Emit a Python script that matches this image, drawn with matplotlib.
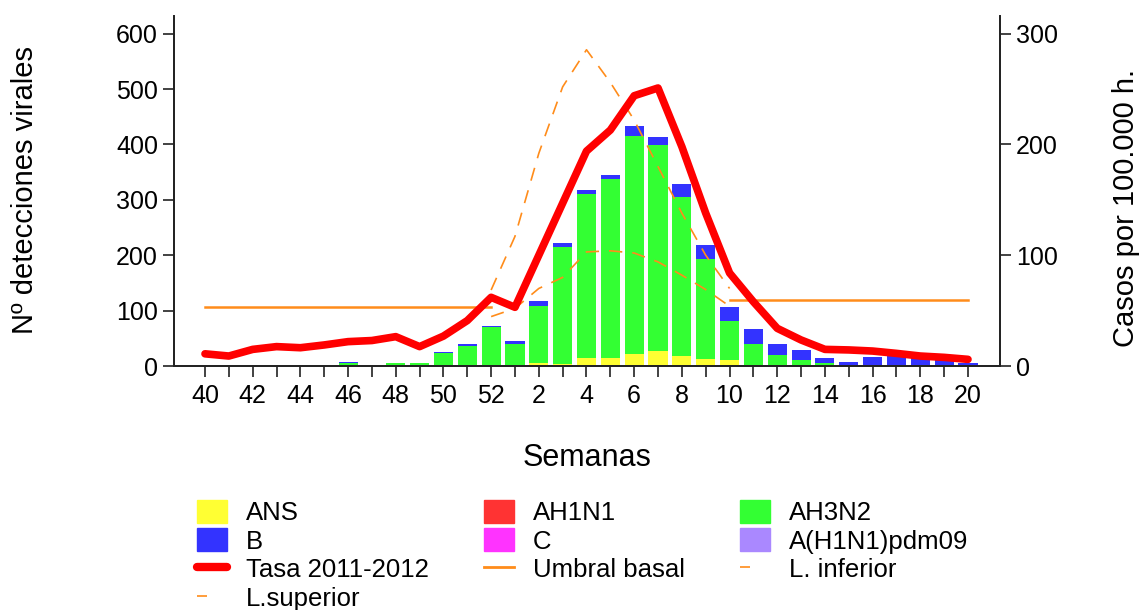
import numpy as np
import matplotlib
matplotlib.use("Agg")
import matplotlib.pyplot as plt
from matplotlib.patches import Patch
from matplotlib.lines import Line2D

plt.rcParams['font.family'] = ['Liberation Sans', 'DejaVu Sans']

weeks = [40, 41, 42, 43, 44, 45, 46, 47, 48, 49, 50, 51, 52,
         1, 2, 3, 4, 5, 6, 7, 8, 9, 10, 11, 12, 13, 14, 15, 16, 17, 18, 19, 20]

# detecciones virales por tipo (eje izquierdo)
ans = [0, 0, 0, 0, 0, 0, 0, 0, 0, 0, 0, 0, 0,
       0, 6, 4, 15, 15, 22, 27, 18, 13, 11, 1, 2, 0, 0, 0, 0, 0, 0, 0, 0]
ah1n1 = [0] * 33
ah3n2 = [0, 0, 0, 0, 0, 0, 5, 0, 5, 5, 23, 37, 70,
         40, 103, 211, 296, 323, 394, 372, 288, 181, 70, 38, 18, 10, 6, 0, 0, 0, 0, 0, 0]
b = [0, 0, 0, 0, 0, 0, 3, 0, 0, 0, 2, 2, 2,
     5, 9, 7, 7, 7, 18, 14, 22, 24, 26, 27, 20, 18, 8, 8, 17, 18, 14, 10, 5]
c = [0, 0, 0, 0, 0, 0, 0, 0, 0, 0, 0, 0, 0,
     0, 0, 0, 0, 0, 0, 0, 1, 1, 0, 0, 0, 0, 0, 0, 0, 0, 0, 0, 0]
pdm09 = [0] * 33

# tasas por 100.000 h. (eje derecho)
tasa = [11, 9, 15, 17.5, 16.5, 19, 22, 23, 26.5, 17.5, 27, 41, 62,
        53, 100, 147, 194, 213, 244, 251, 198, 138, 84, 58, 34, 23.5, 15, 14.5, 13.5, 11.4, 9, 7.8, 6]
nan = np.nan
umbral = [53.5] * 13 + [nan] * 9 + [59.5] * 11
l_inf = [nan] * 12 + [44.6, 52, 70, 80, 103, 104, 102, 94, 82, 69, 54] + [nan] * 10
l_sup = [nan] * 12 + [68.6, 117, 192, 252, 285.5, 256, 222, 180, 138, 100, 70] + [nan] * 10

series = [("ANS", ans, "#ffff33"), ("AH1N1", ah1n1, "#ff3333"), ("AH3N2", ah3n2, "#33ff33"),
          ("B", b, "#3333ff"), ("C", c, "#ff33ff"), ("A(H1N1)pdm09", pdm09, "#aa88ff")]

fig = plt.figure(figsize=(11.47, 6.10), dpi=100)
ax = fig.add_axes([0.1517, 0.4, 0.7203, 0.5738])
ax2 = ax.twinx()

x = np.arange(len(weeks))
bottom = np.zeros(len(weeks))
for name, vals, col in series:
    vals = np.array(vals, dtype=float)
    ax.bar(x, vals, 0.8, bottom=bottom, color=col, edgecolor='none')
    bottom += vals

orange = "#ff8c1a"
ax2.plot(x, tasa, color="#ff0000", lw=5.5, solid_capstyle='round', solid_joinstyle='round', zorder=5)
ax2.plot(x, umbral, color=orange, lw=1.8)
ax2.plot(x, l_inf, color=orange, lw=1.2, dashes=(8, 6))
ax2.plot(x, l_sup, color=orange, lw=1.2, dashes=(8, 6))

ax.set_xlim(-1.3, 33.35)
ax.set_ylim(0, 632)
ax2.set_ylim(0, 316)
ax.set_yticks([0, 100, 200, 300, 400, 500, 600])
ax2.set_yticks([0, 100, 200, 300])
ax.set_xticks(x)
ax.set_xticklabels([str(w) if i % 2 == 0 else "" for i, w in enumerate(weeks)])

for a in (ax, ax2):
    a.spines['top'].set_visible(False)
    for s in ('left', 'right', 'bottom'):
        a.spines[s].set_linewidth(1.3)
        a.spines[s].set_color('#222222')
ax.tick_params(axis='both', direction='out', length=8, width=1.2, labelsize=18, color='#222222')
ax2.tick_params(axis='y', direction='out', length=8, width=1.2, labelsize=18, color='#222222')
ax.tick_params(axis='x', pad=5)

ax.set_ylabel("Nº detecciones virales", fontsize=21)
ax.yaxis.set_label_coords(-0.163, 0.503)
ax2.set_ylabel("Casos por 100.000 h.", fontsize=21)
ax2.yaxis.set_label_coords(1.135, 0.45)
ax.set_xlabel("Semanas", fontsize=22)
ax.xaxis.set_label_coords(0.5, -0.22)

handles = [
    Patch(color="#ffff33", label="ANS"),
    Patch(color="#3333ff", label="B"),
    Line2D([], [], color="#ff0000", lw=6, solid_capstyle='round', label="Tasa 2011-2012"),
    Line2D([], [], color=orange, lw=1.2, dashes=(6, 60), label="L.superior"),
    Patch(color="#ff3333", label="AH1N1"),
    Patch(color="#ff33ff", label="C"),
    Line2D([], [], color=orange, lw=2, label="Umbral basal"),
    Patch(color="#33ff33", label="AH3N2"),
    Patch(color="#aa88ff", label="A(H1N1)pdm09"),
    Line2D([], [], color=orange, lw=1.2, dashes=(6, 60), label="L. inferior"),
]
fig.legend(handles=handles, loc='upper left', bbox_to_anchor=(0.172, 0.181), ncol=3,
           frameon=False, fontsize=18.5, borderpad=0, borderaxespad=0,
           handlelength=1.15, handleheight=1.0, handletextpad=0.75,
           columnspacing=2.15, labelspacing=0.13)

fig.savefig("out.png", dpi=100)
